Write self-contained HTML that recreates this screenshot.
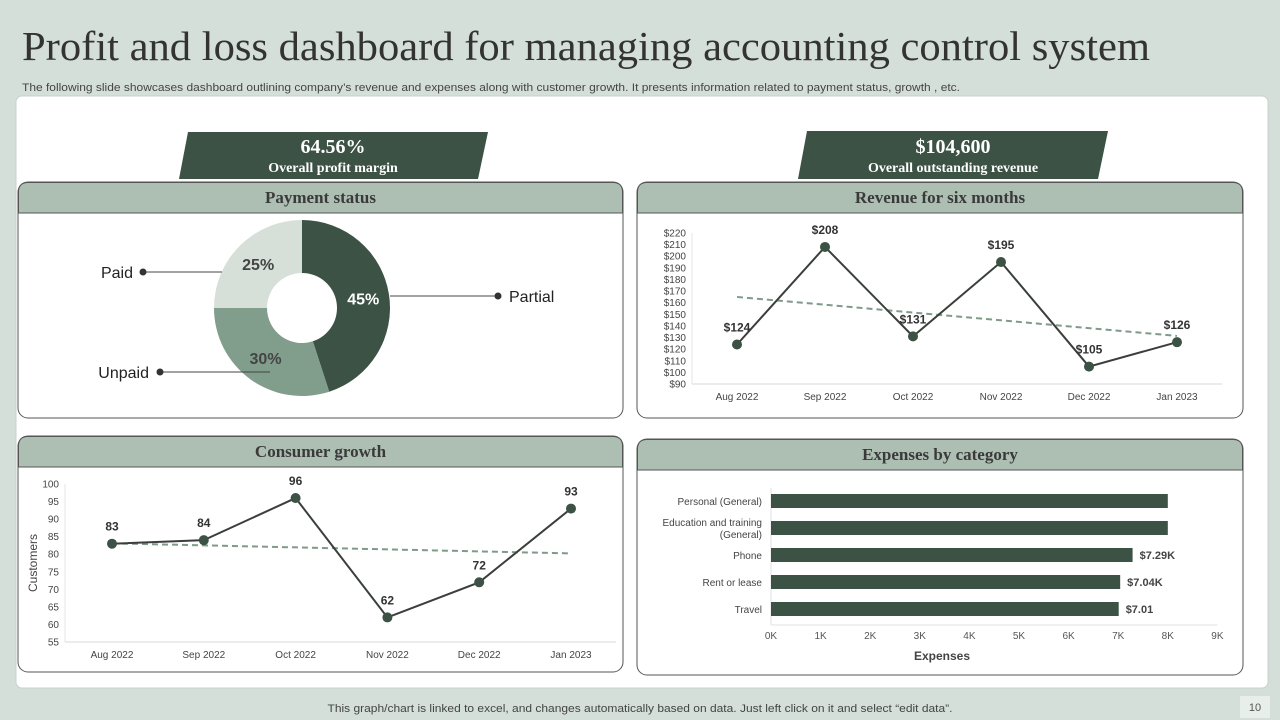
<!DOCTYPE html>
<html><head><meta charset="utf-8"><style>
body{margin:0;width:1280px;height:720px;overflow:hidden;background:#d5dfd9;font-family:"Liberation Sans",sans-serif}
svg{display:block}
</style></head><body>
<svg id="s" width="1280" height="720" xmlns="http://www.w3.org/2000/svg">
<rect x="0" y="0" width="1280" height="720" fill="#d5dfd9"/>
<text x="22" y="60" font-family="Liberation Serif,serif" font-size="41" fill="#333" textLength="1128" lengthAdjust="spacingAndGlyphs">Profit and loss dashboard for managing accounting control system</text>
<text x="22" y="91" font-size="11" fill="#444" textLength="938" lengthAdjust="spacingAndGlyphs">The following slide showcases dashboard outlining company’s revenue and expenses along with customer growth. It presents information related to payment status, growth , etc.</text>
<rect x="16" y="96" width="1252" height="592" rx="6" fill="#fff" stroke="#c8d2cc"/>

<g>
<polygon points="188,132 488,132 478,179 179,179" fill="#3b5245"/>
<text x="333" y="153" text-anchor="middle" font-family="Liberation Serif,serif" font-weight="bold" font-size="20" fill="#fff">64.56%</text>
<text x="333" y="172" text-anchor="middle" font-family="Liberation Serif,serif" font-weight="bold" font-size="14" fill="#fff">Overall profit margin</text>
</g>
<g>
<polygon points="807,131 1108,131 1098,179 798,179" fill="#3b5245"/>
<text x="953" y="153" text-anchor="middle" font-family="Liberation Serif,serif" font-weight="bold" font-size="20" fill="#fff">$104,600</text>
<text x="953" y="172" text-anchor="middle" font-family="Liberation Serif,serif" font-weight="bold" font-size="14" fill="#fff">Overall outstanding revenue</text>
</g>

<g id="cards"></g>
<g id="pie"></g>
<g id="rev"></g>
<g id="cons"></g>
<g id="exp"></g>

<text x="640" y="712" text-anchor="middle" font-size="11" fill="#444" textLength="625" lengthAdjust="spacingAndGlyphs">This graph/chart is linked to excel,  and changes automatically based on data. Just left click on it and select “edit data”.</text>
<rect x="1240" y="696" width="30" height="22" fill="#e8eeea"/>
<text x="1255" y="711" text-anchor="middle" font-size="11" fill="#555">10</text>
</svg>
<script>
const NS="http://www.w3.org/2000/svg";
function mk(p,t,a,txt){const e=document.createElementNS(NS,t);for(const k in a)e.setAttribute(k,a[k]);if(txt!==undefined)e.textContent=txt;p.appendChild(e);return e;}
const DARK="#3b5245";

// data
const payLabels=["Partial","Unpaid","Paid"];
const payValues=[45,30,25];
const revMonths=["Aug 2022","Sep 2022","Oct 2022","Nov 2022","Dec 2022","Jan 2023"];
const revValues=[124,208,131,195,105,126];
const revTicks=[90,100,110,120,130,140,150,160,170,180,190,200,210,220];
const consMonths=["Aug 2022","Sep 2022","Oct 2022","Nov 2022","Dec 2022","Jan 2023"];
const consValues=[83,84,96,62,72,93];
const consTicks=[55,60,65,70,75,80,85,90,95,100];
const expCats=["Personal (General)","Education and training (General)","Phone","Rent or lease","Travel"];
const expValues=[8.0,8.0,7.29,7.04,7.01];
const expLabels=["","","$7.29K","$7.04K","$7.01"];
const expTicks=[0,1,2,3,4,5,6,7,8,9];

// cards
const cards=document.getElementById('cards');
[["payment-status-card",18,182,605,236,"Payment status"],["revenue-card",637,182,606,236,"Revenue for six months"],["consumer-growth-card",18,436,605,236,"Consumer growth"],["expenses-card",637,439,606,236,"Expenses by category"]].forEach(c=>{
 const g=mk(cards,'g',{});
 
 
 mk(g,'rect',{x:c[1],y:c[2],width:c[3],height:c[4],rx:10,fill:'#fff',stroke:'#555'});
 mk(g,'path',{d:`M${c[1]+0.5},${c[2]+31} V${c[2]+10} Q${c[1]+0.5},${c[2]+0.5} ${c[1]+10},${c[2]+0.5} H${c[1]+c[3]-10} Q${c[1]+c[3]-0.5},${c[2]+0.5} ${c[1]+c[3]-0.5},${c[2]+10} V${c[2]+31} Z`,fill:'#adbfb3',stroke:'#555'});
 mk(g,'text',{x:c[1]+c[3]/2,y:c[2]+21,'text-anchor':'middle','font-family':'Liberation Serif,serif','font-weight':'bold','font-size':17,fill:'#3a3a3a'},c[5]);
});

// donut
(function(){
 const g=document.getElementById('pie');const cx=302,cy=308,R=88,r=35;
 const cols=["#3b5245","#819e8c","#d6dfd8"];
 const tot=payValues.reduce((a,b)=>a+b,0);let a0=-Math.PI/2;
 payValues.forEach((v,i)=>{
  const a1=a0+v/tot*2*Math.PI;const lg=(a1-a0)>Math.PI?1:0;
  const p=(rr,a)=>[cx+rr*Math.cos(a),cy+rr*Math.sin(a)];
  const [x0,y0]=p(R,a0),[x1,y1]=p(R,a1),[x2,y2]=p(r,a1),[x3,y3]=p(r,a0);
  const s=mk(g,'path',{d:`M${x0},${y0} A${R},${R} 0 ${lg} 1 ${x1},${y1} L${x2},${y2} A${r},${r} 0 ${lg} 0 ${x3},${y3} Z`,fill:cols[i]});
  
  
  const am=(a0+a1)/2;const [lx,ly]=p(62,am);
  const t=mk(g,'text',{x:lx,y:ly+6,'text-anchor':'middle','font-weight':'bold','font-size':16,fill:i==0?'#fff':'#444'},v+'%');
  
  
  a0=a1;
 });
 const leg=[["Partial",390,296,498,509,"start"],["Unpaid",270,372,160,149,"end"],["Paid",222,272,143,133,"end"]];
 leg.forEach(l=>{
  const lg=mk(g,'g',{});
  
  
  mk(lg,'line',{x1:l[1],y1:l[2],x2:l[3],y2:l[2],stroke:'#444','stroke-width':1});
  mk(lg,'circle',{cx:l[3],cy:l[2],r:3.5,fill:'#333'});
  mk(lg,'text',{x:l[4],y:l[2]+6,'text-anchor':l[5],'font-size':16,fill:'#222'},l[0]);
 });
})();

// line chart helper
function lineChart(gid,months,vals,ticks,x0,x1,y0,y1,fmt,tick,trend,pointX0,pointStep,name){
 const g=document.getElementById(gid);
 const vmin=ticks[0],vmax=ticks[ticks.length-1];
 const Y=v=>y0-(v-vmin)/(vmax-vmin)*(y0-y1);
 const X=i=>pointX0+i*pointStep;
 mk(g,'line',{x1:x0,y1:y0,x2:x1,y2:y0,stroke:'#d9d9d9'});
 mk(g,'line',{x1:x0,y1:y0,x2:x0,y2:y1,stroke:'#e6e6e6'});
 ticks.forEach(t=>{const e=mk(g,'text',{x:x0-6,y:Y(t)+3.5,'text-anchor':'end','font-size':10,fill:'#444'},tick(t));
  });
 months.forEach((m,i)=>{const e=mk(g,'text',{x:X(i),y:y0+16,'text-anchor':'middle','font-size':10,fill:'#444'},m);
  });
 const n=vals.length;let sx=0,sy=0,sxy=0,sxx=0;vals.forEach((v,i)=>{sx+=i;sy+=v;sxy+=i*v;sxx+=i*i});
 const b=(n*sxy-sx*sy)/(n*sxx-sx*sx),a=(sy-b*sx)/n;
 const tl=mk(g,'line',{x1:X(0),y1:Y(a),x2:X(n-1),y2:Y(a+b*(n-1)),stroke:'#7f9a89','stroke-width':2,'stroke-dasharray':'6 4'});
 
 const pl=mk(g,'polyline',{points:vals.map((v,i)=>X(i)+','+Y(v)).join(' '),fill:'none',stroke:'#3a3f3c','stroke-width':2});
 
 vals.forEach((v,i)=>{
  const c=mk(g,'circle',{cx:X(i),cy:Y(v),r:5,fill:DARK});
  
  const t=mk(g,'text',{x:X(i),y:Y(v)-13,'text-anchor':'middle','font-weight':'bold','font-size':12,fill:'#333'},fmt(v));
  
 });
 return g;
}
lineChart('rev',revMonths,revValues,revTicks,692,1222,384,233,v=>'$'+v,t=>'$'+t,true,737,88,'revenue');
const cg=lineChart('cons',consMonths,consValues,consTicks,65,616,642,484,v=>''+v,t=>''+t,true,112,91.8,'customers');
const yt=mk(cg,'text',{x:37,y:563,'text-anchor':'middle','font-size':12,fill:'#444',transform:'rotate(-90 37 563)'},'Customers');



// expenses bar chart
(function(){
 const g=document.getElementById('exp');
 const x0=771,kw=49.6,yTop=492,rowH=27,bh=14,yAxisB=625;
 const X=v=>x0+v*kw;
 mk(g,'line',{x1:x0,y1:488,x2:x0,y2:yAxisB,stroke:'#e0e0e0'});
 mk(g,'line',{x1:x0,y1:yAxisB,x2:X(9),y2:yAxisB,stroke:'#e0e0e0'});
 expTicks.forEach(t=>{const e=mk(g,'text',{x:X(t),y:639,'text-anchor':'middle','font-size':10,fill:'#555'},t+'K');
  });
 expCats.forEach((c,i)=>{
  const yc=yTop+i*rowH+bh/2+2;
  const b=mk(g,'rect',{x:x0,y:yc-bh/2,width:X(expValues[i])-x0,height:bh,fill:DARK});
  
  
  const lines=c==="Education and training (General)"?["Education and training","(General)"]:[c];
  lines.forEach((ln,j)=>{const t=mk(g,'text',{x:762,y:yc+4+(j-(lines.length-1)/2)*12,'text-anchor':'end','font-size':10,fill:'#444'},ln);
   });
  if(expLabels[i]){const t=mk(g,'text',{x:X(expValues[i])+7,y:yc+4,'font-weight':'bold','font-size':11,fill:'#444'},expLabels[i]);
   }
 });
 const xt=mk(g,'text',{x:942,y:660,'text-anchor':'middle','font-weight':'bold','font-size':12,fill:'#444'},'Expenses');
 
 
})();
</script>
</body></html>
